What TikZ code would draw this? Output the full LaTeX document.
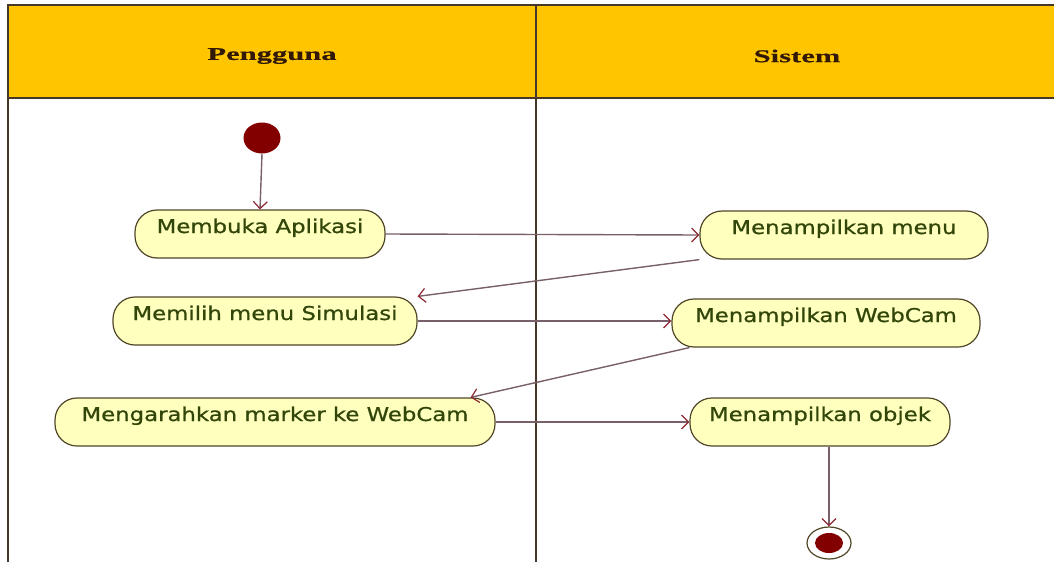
\documentclass[tikz,border=0pt]{standalone}
\usepackage{fontspec}
\usetikzlibrary{arrows.meta,shapes.geometric}
\newfontfamily\headfont[FakeStretch=1.7,FakeBold=0.6]{Liberation Serif}
\newfontfamily\actfont[FakeStretch=1.2,FakeBold=0.8]{DejaVu Sans}
\definecolor{headfill}{RGB}{255,198,0}
\definecolor{framecol}{RGB}{70,55,40}
\definecolor{headtext}{RGB}{50,25,5}
\definecolor{actfill}{RGB}{255,255,190}
\definecolor{actdraw}{RGB}{80,70,40}
\definecolor{acttext}{RGB}{50,70,10}
\definecolor{linecol}{RGB}{120,95,105}
\definecolor{tipcol}{RGB}{140,40,50}
\definecolor{dotcol}{RGB}{130,0,0}
\tikzset{
  lane/.style={draw=framecol, line width=1.2pt},
  head/.style={font=\headfont\bfseries\fontsize{18}{21}\selectfont, text=headtext},
  act/.style={draw=actdraw, fill=actfill, line width=1.2pt, rectangle, rounded corners=22pt,
    minimum height=48pt, inner xsep=0pt, text=acttext,
    font=\actfont\fontsize{19}{22}\selectfont, text height=14pt, text depth=16pt},
  flow/.style={draw=linecol, line width=1.4pt, -{Straight Barb[length=7pt,width=14pt,line width=1.2pt,color=tipcol]}},
  startdot/.style={ellipse, fill=dotcol, minimum width=37pt, minimum height=31pt, inner sep=0pt},
  enddot/.style={ellipse, draw=actdraw, fill=white, line width=1.2pt, minimum width=44pt, minimum height=32pt, inner sep=0pt},
}
\begin{document}
\begin{tikzpicture}[x=1pt,y=-1pt]
\useasboundingbox (0,0) rectangle (1054,562);
% swimlanes
\fill[headfill] (8,5) rectangle (1054,98);
\draw[lane] (8,562) -- (8,5) -- (1054,5);
\draw[lane] (8,98) -- (1054,98);
\draw[lane] (536,5) -- (536,562);
\node[head] (h1) at (272,56) {Pengguna};
\node[head] (h2) at (797,56) {Sistem};
% start
\node[startdot] (start) at (262,138) {};
% activities
\node[act, minimum width=250pt] (buka) at (260,234) {Membuka Aplikasi};
\node[act, minimum width=288pt] (menu) at (844,235) {Menampilkan menu};
\node[act, minimum width=304pt] (pilih) at (265,321) {Memilih menu Simulasi};
\node[act, minimum width=308pt] (cam) at (826,323) {Menampilkan WebCam};
\node[act, minimum width=440pt] (arah) at (275,422) {Mengarahkan marker ke WebCam};
\node[act, minimum width=260pt] (obj) at (820,422) {Menampilkan objek};
% end
\node[enddot] (end) at (829,543) {};
\node[ellipse, fill=dotcol, minimum width=28pt, minimum height=20pt, inner sep=0pt] (endin) at (end) {};
% flows
\draw[flow] (start.south) -- (buka.north);
\draw[flow] (buka.east) -- (menu.west);
\draw[flow] (menu.south west) -- (pilih.north east);
\draw[flow] (pilih.east) -- (pilih.east -| cam.west);
\draw[flow] ([xshift=18pt]cam.south west) -- ([xshift=-25pt]arah.north east);
\draw[flow] (arah.east) -- (obj.west);
\draw[flow] (obj.south -| end) -- (end.north);
\end{tikzpicture}
\end{document}
